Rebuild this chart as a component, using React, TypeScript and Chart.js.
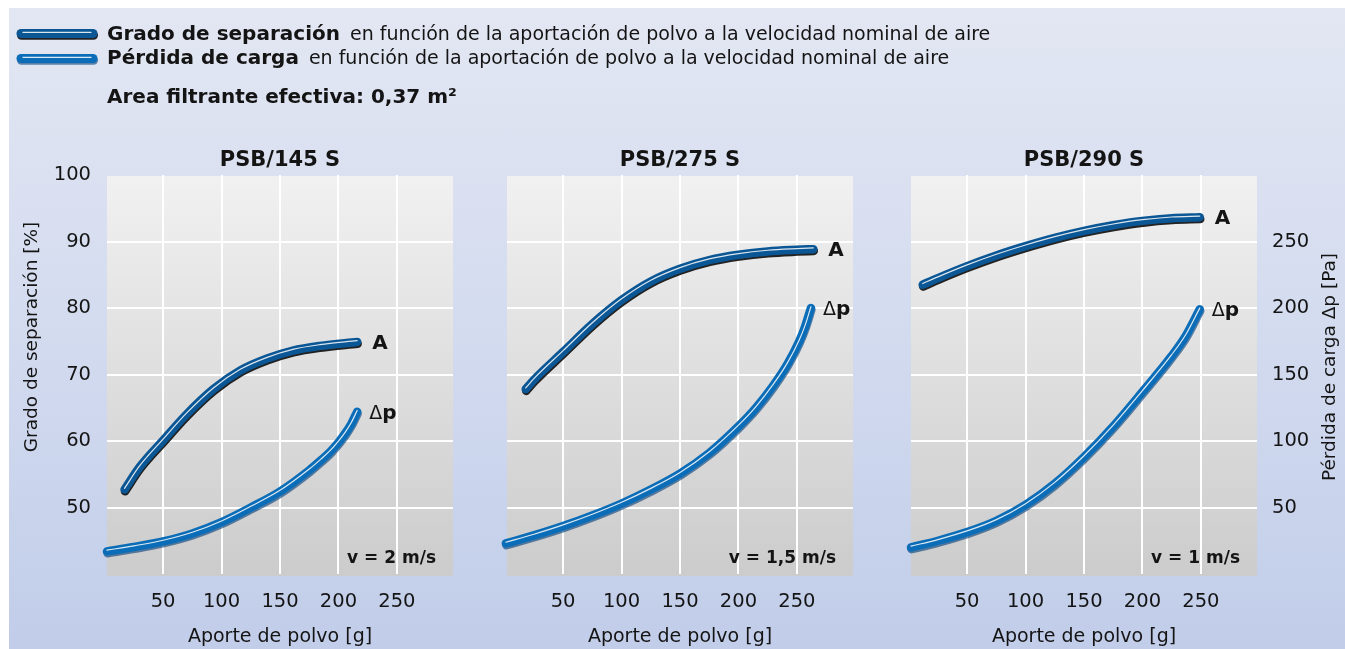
import React, { useEffect, useRef } from "react";
import { Chart, registerables } from "chart.js";

Chart.register(...registerables);

const W = 1345;
const H = 649;
const FONT = "'DejaVu Sans', sans-serif";

// Tick values
const dustTicks = [50, 100, 150, 200, 250];
const sepTicks = [50, 60, 70, 80, 90, 100];
const dpTicks = [50, 100, 150, 200, 250];

// Texts
const panelTitles = ["PSB/145 S", "PSB/275 S", "PSB/290 S"];
const speedLabels = ["v = 2 m/s", "v = 1,5 m/s", "v = 1 m/s"];

// Panel 1 – PSB/145 S
const dust1Sep = [17, 30, 50, 70, 93, 116, 139, 161, 184, 216];
const sep1 = [52.7, 56.1, 60.1, 64.0, 67.8, 70.6, 72.4, 73.6, 74.3, 74.9];
const dust1Dp = [2, 25, 50, 75, 100, 125, 150, 175, 185, 193, 200, 206, 211, 216];
const dp1 = [17, 20.3, 24.5, 30.5, 39, 50, 62, 78, 85.5, 92, 99, 106, 113, 122];

// Panel 2 – PSB/275 S
const dust2Sep = [18, 25, 50, 75, 100, 125, 150, 175, 200, 225, 250, 264];
const sep2 = [67.8, 69.2, 73.4, 77.6, 81.2, 84.0, 85.9, 87.2, 88.0, 88.5, 88.75, 88.85];
const dust2Dp = [1, 25, 50, 75, 100, 125, 150, 175, 200, 215, 230, 242, 252, 257, 262];
const dp2 = [23, 29, 36, 44, 53, 63.5, 75.5, 91, 111, 125, 142, 158, 175, 186, 200];

// Panel 3 – PSB/290 S
const dust3Sep = [12, 25, 50, 75, 100, 125, 150, 175, 200, 225, 249];
const sep3 = [83.5, 84.5, 86.3, 87.9, 89.3, 90.55, 91.6, 92.45, 93.1, 93.5, 93.65];
const dust3Dp = [2, 25, 50, 75, 100, 125, 150, 175, 200, 225, 237, 249];
const dp3 = [20, 25, 31.5, 40, 52, 68, 88, 111, 137, 164, 179, 199];

const panelData = [
  { dustSep: dust1Sep, sep: sep1, dustDp: dust1Dp, dp: dp1 },
  { dustSep: dust2Sep, sep: sep2, dustDp: dust2Dp, dp: dp2 },
  { dustSep: dust3Sep, sep: sep3, dustDp: dust3Dp, dp: dp3 },
];

// Layout (plot-area left edges)
const panelLeft = [107, 507, 911];
const PLOT_W = 346;
const PLOT_TOP = 175;
const PLOT_BOTTOM = 574;
const Y_W = 70;
const Y2_W = 75;
const X_H = 50;

const SEP_COLOR = "#0b5796";
const DP_COLOR = "#0b6db7";
const SEP_SHADOW = "rgba(0,0,0,0.85)";
const DP_SHADOW = "rgba(0,60,120,0.6)";
const TEXT = "#141414";

const pts = (xs: number[], ys: number[]) => xs.map((x, i) => ({ x, y: ys[i] }));

const decorPlugin = {
  id: "decor",
  beforeDraw(chart: any) {
    const { ctx, chartArea: a } = chart;
    const g = ctx.createLinearGradient(0, a.top, 0, a.bottom);
    g.addColorStop(0, "#f1f1f1");
    g.addColorStop(1, "#cccccc");
    ctx.save();
    ctx.fillStyle = g;
    ctx.fillRect(a.left, a.top + 1, a.right - a.left, a.bottom - a.top + 1);
    ctx.restore();
  },
  beforeDatasetDraw(chart: any, args: any) {
    const ds = chart.data.datasets[args.index];
    const ctx = chart.ctx;
    ctx.save();
    if (ds.shadow) {
      ctx.shadowColor = ds.shadow;
      ctx.shadowOffsetX = 0.5;
      ctx.shadowOffsetY = 1.8;
      ctx.shadowBlur = 0;
    }
    if (ds.lift) ctx.translate(0, -ds.lift);
  },
  afterDatasetDraw(chart: any) {
    chart.ctx.restore();
  },
  afterDraw(chart: any, _args: any, opts: any) {
    const { ctx, chartArea: a } = chart;
    const cx = (a.left + a.right) / 2;
    ctx.save();
    ctx.fillStyle = TEXT;
    ctx.textBaseline = "alphabetic";

    // panel title
    ctx.textAlign = "center";
    ctx.font = `bold 21px ${FONT}`;
    ctx.fillText(opts.title, cx, a.top - 9);

    // x axis title
    ctx.font = `19px ${FONT}`;
    ctx.fillText("Aporte de polvo [g]", cx, a.bottom + 68);

    // speed
    ctx.textAlign = "right";
    ctx.font = `bold 17px ${FONT}`;
    ctx.fillText(opts.speed, a.right - 17, a.bottom - 11);

    // curve labels
    ctx.textAlign = "left";
    const metaA = chart.getDatasetMeta(2);
    const lastA = metaA.data[metaA.data.length - 1];
    ctx.font = `bold 20px ${FONT}`;
    ctx.fillText("A", lastA.x + 15, lastA.y + 7);
    const metaP = chart.getDatasetMeta(3);
    const lastP = metaP.data[metaP.data.length - 1];
    ctx.font = `19px ${FONT}`;
    ctx.fillText("\u0394", lastP.x + 12, lastP.y + 7);
    const dw = ctx.measureText("\u0394").width;
    ctx.font = `bold 20px ${FONT}`;
    ctx.fillText("p", lastP.x + 12 + dw, lastP.y + 7);

    // axis titles
    ctx.textAlign = "center";
    ctx.textBaseline = "middle";
    ctx.font = `18.5px ${FONT}`;
    if (opts.leftTitle) {
      ctx.save();
      ctx.translate(a.left - 75, 337);
      ctx.rotate(-Math.PI / 2);
      ctx.fillText("Grado de separación [%]", 0, 0);
      ctx.restore();
    }
    if (opts.rightTitle) {
      ctx.save();
      ctx.translate(a.right + 73, 367);
      ctx.rotate(-Math.PI / 2);
      ctx.fillText("Pérdida de carga \u0394p [Pa]", 0, 0);
      ctx.restore();
    }

    // header with legend
    if (opts.header) {
      const swatch = (y: number, color: string, shadow: string) => {
        ctx.save();
        ctx.lineCap = "round";
        ctx.lineWidth = 9;
        ctx.strokeStyle = color;
        ctx.shadowColor = shadow;
        ctx.shadowOffsetX = 0.5;
        ctx.shadowOffsetY = 1.8;
        ctx.shadowBlur = 0;
        ctx.beginPath();
        ctx.moveTo(21, y);
        ctx.lineTo(93, y);
        ctx.stroke();
        ctx.restore();
        ctx.save();
        ctx.lineCap = "round";
        ctx.lineWidth = 1.3;
        ctx.strokeStyle = "rgba(255,255,255,0.85)";
        ctx.beginPath();
        ctx.moveTo(23, y - 1.2);
        ctx.lineTo(91, y - 1.2);
        ctx.stroke();
        ctx.restore();
      };
      swatch(33.5, SEP_COLOR, SEP_SHADOW);
      swatch(58.5, DP_COLOR, DP_SHADOW);
      ctx.textAlign = "left";
      ctx.textBaseline = "alphabetic";
      const rows = [
        ["Grado de separación", "en función de la aportación de polvo a la velocidad nominal de aire", 40],
        ["Pérdida de carga", "en función de la aportación de polvo a la velocidad nominal de aire", 64],
      ];
      rows.forEach(([b, r, y]: any) => {
        ctx.font = `bold 20px ${FONT}`;
        ctx.fillText(b, 107, y);
        const w = ctx.measureText(b).width;
        ctx.font = `19px ${FONT}`;
        ctx.fillText(r, 107 + w + 10, y);
      });
      ctx.font = `bold 20px ${FONT}`;
      ctx.fillText("Area filtrante efectiva: 0,37 m²", 107, 103);
    }
    ctx.restore();
  },
};

function makeConfig(i: number): any {
  const d = panelData[i];
  const tickFont = { family: FONT, size: 19.5 };
  const fixTicks = (vals: number[]) => (s: any) => {
    s.ticks = vals.map((v) => ({ value: v }));
  };
  const line = (data: any, axis: string, color: string, width: number, order: number, extra: any) => ({
    data,
    yAxisID: axis,
    borderColor: color,
    borderWidth: width,
    borderCapStyle: "round",
    borderJoinStyle: "round",
    pointRadius: 0,
    cubicInterpolationMode: "monotone",
    clip: false,
    order,
    ...extra,
  });
  const sepPts = pts(d.dustSep, d.sep);
  const dpPts = pts(d.dustDp, d.dp);
  const yW = i === 0 ? Y_W : 0;
  const y2W = i === 2 ? Y2_W : 0;
  return {
    type: "line",
    data: {
      datasets: [
        line(sepPts, "y", "rgba(255,255,255,0.85)", 1.2, 1, { lift: 1.2 }),
        line(dpPts, "y2", "rgba(255,255,255,0.85)", 1.2, 1, { lift: 1.2 }),
        line(sepPts, "y", SEP_COLOR, 8.5, 3, { shadow: SEP_SHADOW }),
        line(dpPts, "y2", DP_COLOR, 8.5, 2, { shadow: DP_SHADOW }),
      ],
    },
    options: {
      responsive: false,
      animation: false,
      devicePixelRatio: 1,
      events: [],
      layout: {
        padding: {
          left: panelLeft[i] - yW,
          right: W - panelLeft[i] - PLOT_W - y2W,
          top: PLOT_TOP,
          bottom: H - PLOT_BOTTOM - X_H,
        },
      },
      plugins: {
        legend: { display: false },
        tooltip: { enabled: false },
        decor: {
          title: panelTitles[i],
          speed: speedLabels[i],
          leftTitle: i === 0,
          rightTitle: i === 2,
          header: i === 0,
        },
      },
      scales: {
        x: {
          type: "linear",
          min: 2,
          max: 298,
          afterBuildTicks: fixTicks(dustTicks),
          afterFit: (s: any) => {
            s.height = X_H;
          },
          border: { display: false },
          grid: { color: "#ffffff", lineWidth: 2, drawTicks: false },
          ticks: { padding: 16, color: TEXT, font: tickFont, autoSkip: false, maxRotation: 0 },
        },
        y: {
          type: "linear",
          position: "left",
          min: 40,
          max: 100,
          afterBuildTicks: fixTicks(sepTicks),
          afterFit: (s: any) => {
            s.width = yW;
          },
          border: { display: false },
          grid: {
            color: (c: any) => (c.tick && c.tick.value === 100 ? "rgba(0,0,0,0)" : "#ffffff"),
            lineWidth: 2,
            drawTicks: false,
          },
          ticks: { display: i === 0, padding: 16, color: TEXT, font: tickFont, autoSkip: false },
        },
        y2: {
          type: "linear",
          position: "right",
          display: i === 2,
          min: 0,
          max: 300,
          afterBuildTicks: fixTicks(dpTicks),
          afterFit: (s: any) => {
            s.width = y2W;
          },
          border: { display: false },
          grid: { display: false, drawTicks: false },
          ticks: { padding: 15, color: TEXT, font: tickFont, autoSkip: false },
        },
      },
    },
    plugins: [decorPlugin],
  };
}

function Panel({ index }: { index: number }) {
  const ref = useRef<HTMLCanvasElement>(null);
  useEffect(() => {
    if (!ref.current) return;
    const chart = new Chart(ref.current, makeConfig(index));
    return () => chart.destroy();
  }, [index]);
  return (
    <canvas
      ref={ref}
      width={W}
      height={H}
      style={{ position: "absolute", left: 0, top: 0, width: W, height: H }}
    />
  );
}

export default function App() {
  return (
    <div
      style={{
        position: "absolute",
        left: 0,
        top: 0,
        width: W,
        height: H,
        background: "#ffffff",
        overflow: "hidden",
      }}
    >
      <div
        style={{
          position: "absolute",
          left: 9,
          top: 8,
          width: W - 9,
          height: H - 8,
          background: "linear-gradient(to bottom, #e3e7f3 0%, #d3dbef 50%, #c1cde9 100%)",
        }}
      />
      {[0, 1, 2].map((i) => (
        <Panel key={i} index={i} />
      ))}
    </div>
  );
}
